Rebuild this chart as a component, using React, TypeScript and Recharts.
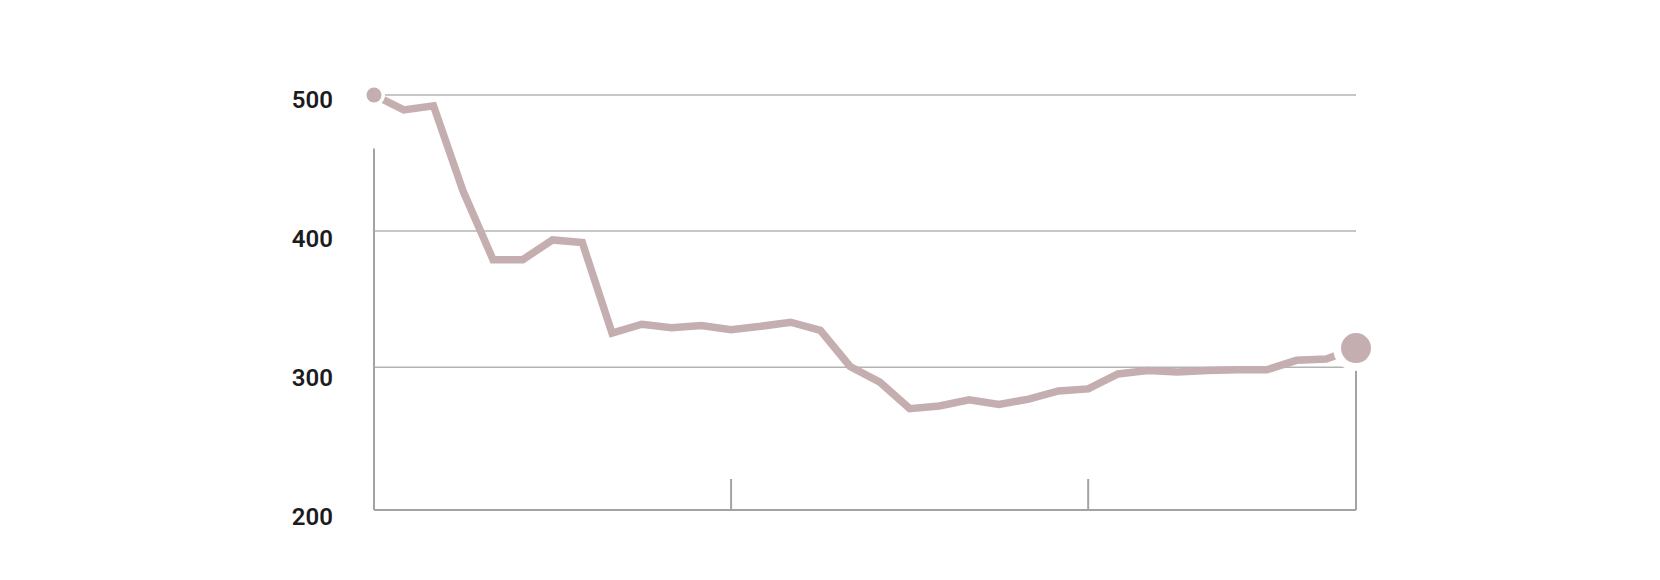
import { LineChart, Line, XAxis, YAxis, ReferenceLine } from "recharts";

// monthly readings, Jan 2016 .. Oct 2018
const periods = [
  "2016-01", "2016-02", "2016-03", "2016-04", "2016-05", "2016-06",
  "2016-07", "2016-08", "2016-09", "2016-10", "2016-11", "2016-12",
  "2017-01", "2017-02", "2017-03", "2017-04", "2017-05", "2017-06",
  "2017-07", "2017-08", "2017-09", "2017-10", "2017-11", "2017-12",
  "2018-01", "2018-02", "2018-03", "2018-04", "2018-05", "2018-06",
  "2018-07", "2018-08", "2018-09", "2018-10",
];

const values = [
  500, 489, 492, 429, 379, 379, 393.5, 391.5, 325, 331.5, 329, 330.5,
  327.5, 330, 333, 327, 300.5, 289, 269.5, 271.5, 276, 272.5, 276.5, 282.5,
  284, 295, 297.5, 296.5, 297.5, 298, 298, 305, 306, 314,
];

const yearTicks = ["2017-01", "2018-01"];
const gridValues = [300, 400, 500];
const labelTicks = [200, 300, 400, 500];
const leftRuleTop = 460.6;

const LINE = "#c5aeb0";
const RULE = "#a3a3a3";

const data = periods.map((period, i) => ({ period, value: values[i] }));

const renderDot = (props: any) => {
  const { cx, cy, index } = props;
  const last = index === values.length - 1;
  if (index !== 0 && !last) return <g key={`dot-${index}`} />;
  const r = last ? 15 : 7.5;
  const halo = last ? 8 : 3.5;
  return (
    <g key={`dot-${index}`}>
      <circle cx={cx} cy={cy} r={r + halo} fill="#fff" />
      <circle cx={cx} cy={cy} r={r} fill={LINE} />
    </g>
  );
};

const noLabel = () => <g />;

export default function App() {
  const first = periods[0];
  const last = periods[periods.length - 1];
  return (
    <div style={{ width: 1660, height: 580, background: "#fff" }}>
      <style>{"body{margin:0}"}</style>
      <LineChart
        width={1660}
        height={580}
        data={data}
        margin={{ top: 95, right: 304, bottom: 70, left: 274 }}
      >
        <XAxis
          dataKey="period"
          ticks={yearTicks}
          interval={0}
          mirror
          tick={noLabel}
          tickSize={31}
          tickLine={{ stroke: RULE, strokeWidth: 2 }}
          axisLine={{ stroke: RULE, strokeWidth: 2 }}
        />
        <YAxis yAxisId="v" hide domain={[195, 500]} />
        <YAxis
          yAxisId="lbl"
          width={100}
          domain={[205, 503.2]}
          allowDataOverflow
          ticks={labelTicks}
          interval={0}
          axisLine={false}
          tickLine={false}
          tickSize={0}
          tickMargin={41}
          tick={{
            fill: "#1c1c1c",
            fontSize: 24,
            fontWeight: 600,
            fontFamily: "Roboto, sans-serif",
          }}
        />
        {gridValues.map((g) => (
          <ReferenceLine
            key={g}
            yAxisId="v"
            y={g}
            stroke="#b4b4b4"
            strokeWidth={1.5}
          />
        ))}
        <ReferenceLine
          yAxisId="v"
          segment={[
            { x: first, y: leftRuleTop },
            { x: first, y: 195 },
          ]}
          stroke={RULE}
          strokeWidth={2}
        />
        <ReferenceLine
          yAxisId="v"
          segment={[
            { x: last, y: values[values.length - 1] },
            { x: last, y: 195 },
          ]}
          stroke={RULE}
          strokeWidth={2}
        />
        <Line
          yAxisId="v"
          type="linear"
          dataKey="value"
          stroke={LINE}
          strokeWidth={7.5}
          dot={renderDot}
          activeDot={false}
          isAnimationActive={false}
        />
      </LineChart>
    </div>
  );
}
